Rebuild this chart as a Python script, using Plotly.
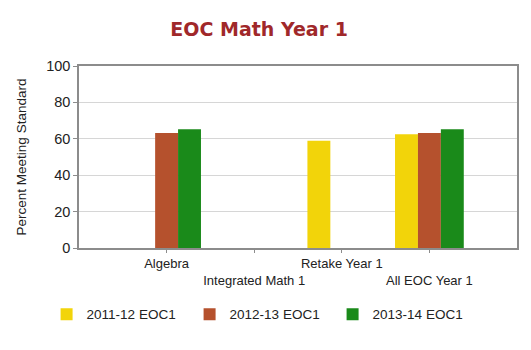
import plotly.graph_objects as go

categories = ["Algebra", "Integrated Math 1", "Retake Year 1", "All EOC Year 1"]
series_names = ["2011-12 EOC1", "2012-13 EOC1", "2013-14 EOC1"]
values_2011_12 = [None, None, 58.9, 62.5]
values_2012_13 = [63.2, None, None, 63.2]
values_2013_14 = [65.2, None, None, 65.2]
colors = ["#F2D40A", "#B5512D", "#1A8A1A"]
y_ticks = [0, 20, 40, 60, 80, 100]

series_values = [values_2011_12, values_2012_13, values_2013_14]

fig = go.Figure()
for name, vals, col in zip(series_names, series_values, colors):
    fig.add_trace(go.Bar(x=categories, y=vals, name=name, marker=dict(color=col, line=dict(width=0))))

ticktext = [c if i % 2 == 0 else "<br>" + c for i, c in enumerate(categories)]

fig.update_layout(
    width=531, height=350,
    margin=dict(l=79, r=12, t=66, b=102),
    paper_bgcolor="white", plot_bgcolor="white",
    barmode="group", bargap=0.215, bargroupgap=0,
    title=dict(text="<b>EOC Math Year 1</b>", x=0.488, xanchor="center", y=1 - 29 / 350, yanchor="middle",
               font=dict(family="DejaVu Sans", size=19, color="#A0282A")),
    font=dict(family="Liberation Sans", color="#222222"),
    showlegend=True,
    legend=dict(orientation="h", x=-0.074, xanchor="left", y=-0.365, yanchor="middle",
                font=dict(size=13.5, color="#222222"), entrywidth=98, entrywidthmode="pixels",
                bgcolor="rgba(0,0,0,0)"),
    xaxis=dict(type="category", range=[-1, 4], tickmode="array", tickvals=categories, ticktext=ticktext,
               tickangle=0, showline=True, linecolor="#8C8C8C", linewidth=1.5, mirror=True,
               ticks="outside", ticklen=3, tickcolor="#8C8C8C", showgrid=False,
               tickfont=dict(size=13, color="#222222")),
    yaxis=dict(range=[0, 100], tickvals=y_ticks, showline=True, linecolor="#8C8C8C", linewidth=1.5, mirror=True,
               ticks="outside", ticklen=4, tickcolor="#8C8C8C", showgrid=True, gridcolor="#D6D6D6",
               gridwidth=1, zeroline=False, tickfont=dict(size=14.5, color="#222222"),
               title=dict(text="Percent Meeting Standard", font=dict(size=13.5, color="#222222"), standoff=16)),
)

fig.write_html("out.html")
